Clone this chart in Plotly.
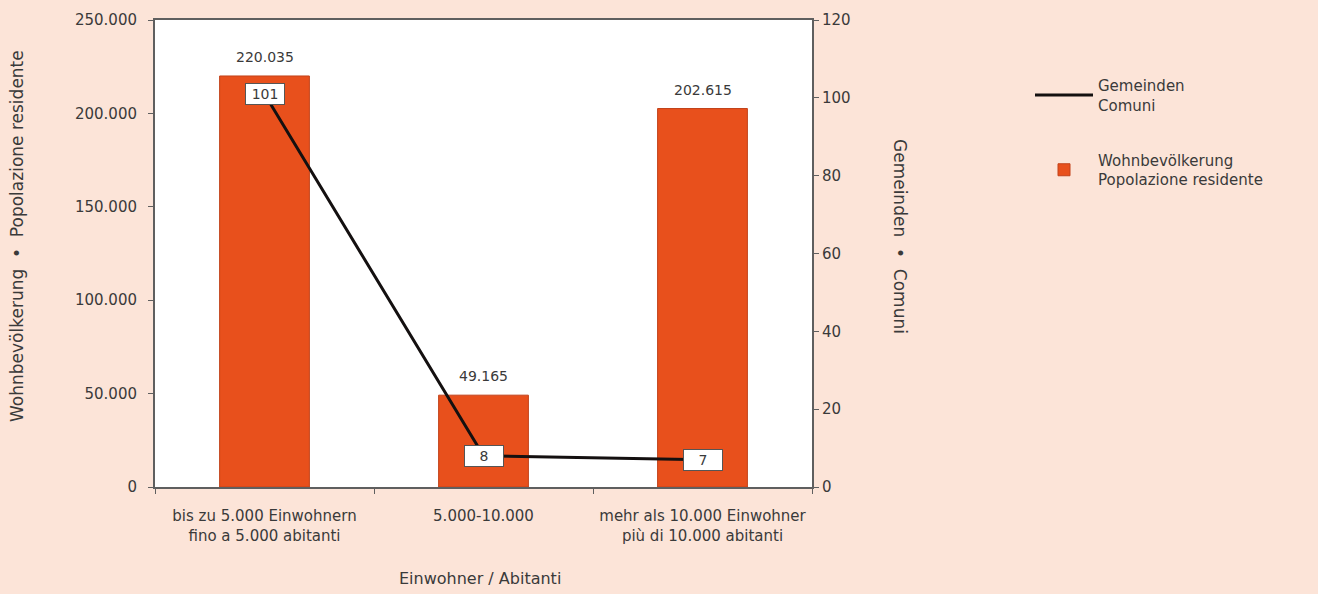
import plotly.graph_objects as go

# Municipalities by size class: resident population and number of municipalities
categories = [
    "bis zu 5.000 Einwohnern<br>fino a 5.000 abitanti",
    "5.000-10.000",
    "mehr als 10.000 Einwohner<br>più di 10.000 abitanti",
]
population = [220035, 49165, 202615]
municipalities = [101, 8, 7]

pop_ticks = [0, 50000, 100000, 150000, 200000, 250000]
mun_ticks = [0, 20, 40, 60, 80, 100, 120]

BG = "#FCE4D8"
BAR = "#E8501C"
TXT = "#3a3a3a"
AXIS = "#5f5f5f"
FONT = "DejaVu Sans, Verdana, sans-serif"

# plot area in pixels, used to place the free-standing titles
PLOT_L, PLOT_R, PLOT_T, PLOT_B = 155, 812, 20, 487
PW, PH = PLOT_R - PLOT_L, PLOT_B - PLOT_T


def px_x(x):
    return (x - PLOT_L) / PW


def px_y(y):
    return (PLOT_B - y) / PH


def fmt_thousands(v):
    return f"{v:,}".replace(",", ".")


fig = go.Figure()

fig.add_trace(go.Bar(
    x=categories,
    y=population,
    name="Wohnbevölkerung<br>Popolazione residente",
    marker=dict(color=BAR, line=dict(color="#C2421A", width=1)),
    width=0.41,
    legend="legend2",
    yaxis="y",
))

fig.add_trace(go.Scatter(
    x=categories,
    y=municipalities,
    name="Gemeinden<br>Comuni",
    mode="lines",
    line=dict(color="#141010", width=3),
    legend="legend",
    yaxis="y2",
))

# Population values above the bars
for c, v in zip(categories, population):
    fig.add_annotation(
        x=c, y=v, xref="x", yref="y",
        text=fmt_thousands(v), showarrow=False,
        yanchor="bottom", yshift=9,
        font=dict(size=14, color=TXT, family=FONT),
    )

# Boxed value labels on the municipalities line
for c, v in zip(categories, municipalities):
    fig.add_annotation(
        x=c, y=v, xref="x", yref="y2",
        text=str(v), showarrow=False,
        bgcolor="white", bordercolor="#555555", borderwidth=1,
        borderpad=2, width=34,
        font=dict(size=14, color=TXT, family=FONT),
    )

# Axis titles
fig.add_annotation(
    x=px_x(17), y=px_y(236), xref="paper", yref="paper",
    xanchor="center", yanchor="middle",
    text="Wohnbevölkerung  •  Popolazione residente", textangle=-90,
    showarrow=False, font=dict(size=17, color=TXT, family=FONT),
)
fig.add_annotation(
    x=px_x(900), y=px_y(236), xref="paper", yref="paper",
    xanchor="center", yanchor="middle",
    text="Gemeinden  •  Comuni", textangle=90, showarrow=False,
    font=dict(size=17, color=TXT, family=FONT),
)
fig.add_annotation(
    x=px_x(480), y=px_y(578), xref="paper", yref="paper",
    xanchor="center", yanchor="middle",
    text="Einwohner / Abitanti", showarrow=False,
    font=dict(size=16, color=TXT, family=FONT),
)

fig.update_layout(
    width=1318, height=594,
    margin=dict(l=PLOT_L, r=1318 - PLOT_R, t=PLOT_T, b=594 - PLOT_B),
    paper_bgcolor=BG,
    plot_bgcolor="white",
    separators=",.",
    font=dict(family=FONT, size=14, color=TXT),
    showlegend=True,
    xaxis=dict(
        type="category",
        range=[-0.5, 2.5],
        showline=True, linecolor=AXIS, linewidth=2, mirror=True,
        ticks="outside", tickson="boundaries", ticklen=5, tickcolor=AXIS,
        ticklabelstandoff=14,
        showgrid=False,
        tickfont=dict(size=15, color=TXT),
    ),
    yaxis=dict(
        range=[0, 250000],
        tickvals=pop_ticks,
        tickformat=",.0f",
        showline=True, linecolor=AXIS, linewidth=2,
        ticks="outside", ticklen=5, tickcolor=AXIS,
        ticklabelstandoff=8,
        showgrid=False, zeroline=False,
        tickfont=dict(size=15, color=TXT),
    ),
    yaxis2=dict(
        range=[0, 120],
        tickvals=mun_ticks,
        overlaying="y", side="right",
        showline=True, linecolor=AXIS, linewidth=2,
        ticks="outside", ticklen=5, tickcolor=AXIS,
        showgrid=False, zeroline=False,
        tickfont=dict(size=15, color=TXT),
    ),
    legend=dict(
        x=px_x(1030), y=0.895, xanchor="left", yanchor="top",
        bgcolor="rgba(0,0,0,0)", font=dict(size=15, color=TXT),
        itemwidth=58,
    ),
    legend2=dict(
        x=px_x(1030), y=0.735, xanchor="left", yanchor="top",
        bgcolor="rgba(0,0,0,0)", font=dict(size=15, color=TXT),
        itemwidth=58,
    ),
)

fig.write_html("out.html")
